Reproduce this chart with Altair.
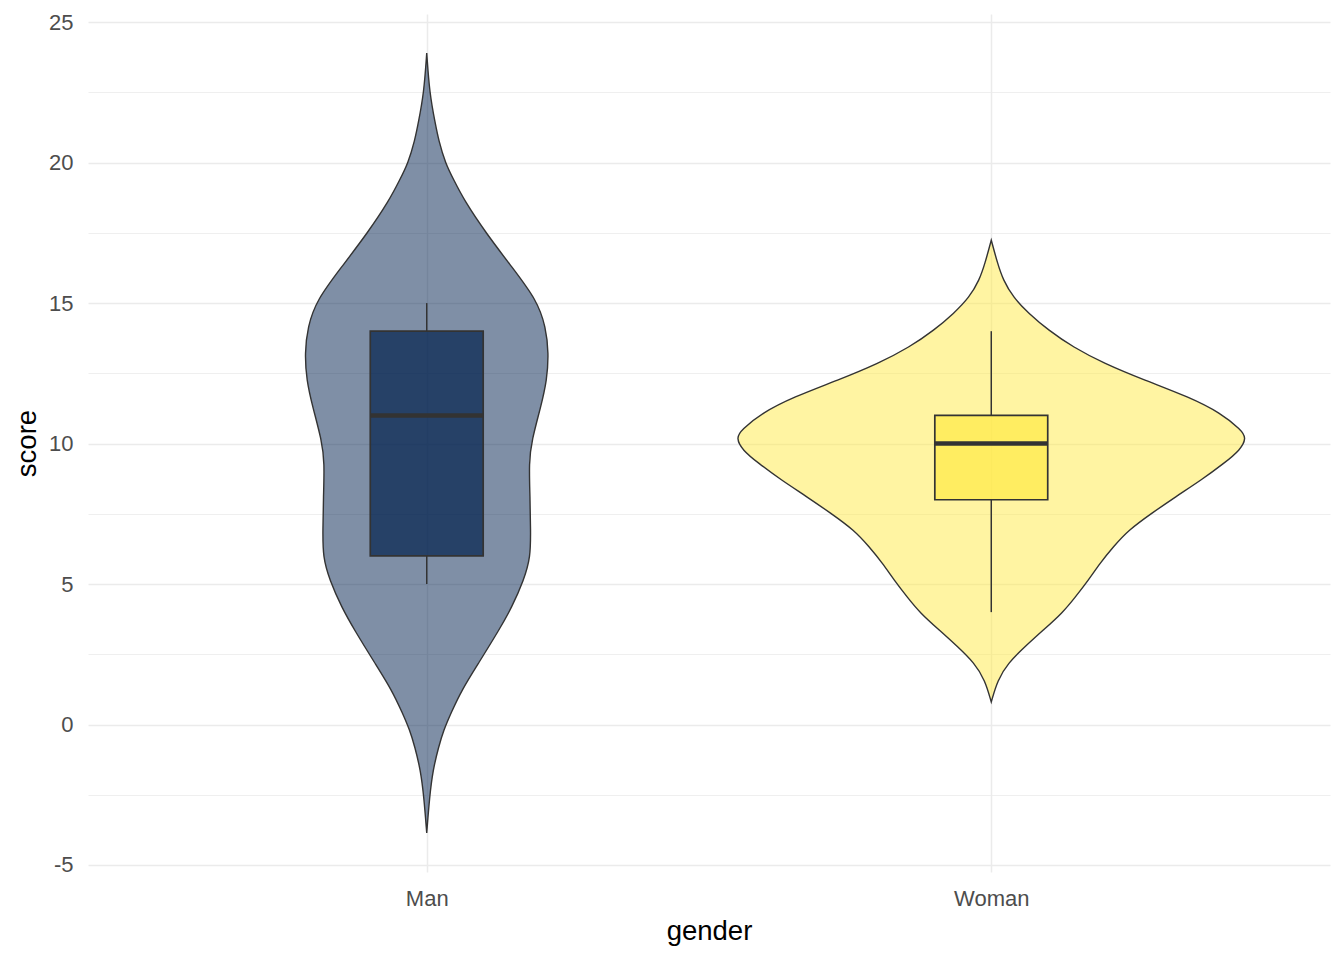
import altair as alt
import pandas as pd

# categories and colours
genders = ["Man", "Woman"]
gender_pos = [1, 2]
fill_colors = ["#00204D", "#FFEA46"]

# violin outlines: score and half-width (x units)
man_score = [23.90, 22.47, 21.41, 20.80, 19.98, 19.38, 18.67, 17.49, 16.28, 15.11,
             14.15, 13.22, 12.26, 11.30, 10.12, 9.31, 8.10, 6.92, 5.96, 5.14,
             4.18, 3.36, 2.19, 1.23, 0.41, -0.20, -0.80, -1.62, -2.58, -3.86]
man_half = [0.0, 0.005, 0.015, 0.021, 0.033, 0.048, 0.066, 0.105, 0.151, 0.195,
            0.211, 0.216, 0.213, 0.202, 0.186, 0.181, 0.183, 0.184, 0.184, 0.172,
            0.151, 0.128, 0.092, 0.062, 0.043, 0.030, 0.021, 0.011, 0.005, 0.0]

woman_score = [17.24, 16.42, 15.82, 15.20, 14.64, 14.04, 13.43, 12.86, 12.26, 11.65,
               11.09, 10.48, 10.20, 9.77, 9.31, 8.70, 8.10, 7.53, 6.92, 6.32,
               5.75, 5.14, 4.54, 3.97, 3.36, 2.76, 2.19, 1.58, 0.80]
woman_half = [0.0, 0.011, 0.021, 0.039, 0.066, 0.101, 0.145, 0.199, 0.271, 0.351,
              0.406, 0.443, 0.452, 0.441, 0.413, 0.372, 0.326, 0.285, 0.243, 0.216,
              0.193, 0.172, 0.149, 0.126, 0.092, 0.059, 0.030, 0.011, 0.0]

# boxplot statistics
box_q1 = [6, 8]
box_median = [11, 10]
box_q3 = [14, 11]
whisker_lo = [5, 4]
whisker_hi = [15, 14]
box_half = 0.1

y_ticks = [-5, -2.5, 0, 2.5, 5, 7.5, 10, 12.5, 15, 17.5, 20, 22.5, 25]

rows = []
for g, p, sc, hw in [("Man", 1, man_score, man_half), ("Woman", 2, woman_score, woman_half)]:
    for s, h in zip(sc, hw):
        rows.append({"gender": g, "score": s, "left": p - h, "right": p + h})
violin_df = pd.DataFrame(rows).sort_values(["gender", "score"]).reset_index(drop=True)

box_df = pd.DataFrame({
    "gender": genders, "pos": gender_pos,
    "bl": [p - box_half for p in gender_pos], "br": [p + box_half for p in gender_pos],
    "q1": box_q1, "median": box_median, "q3": box_q3,
    "lo": whisker_lo, "hi": whisker_hi,
})

FONT = "Liberation Sans"
xscale = alt.Scale(domain=[0.4, 2.6], nice=False, zero=False)
yscale = alt.Scale(domain=[-5.25, 25.29], nice=False, zero=False)
color = alt.Color("gender:N", scale=alt.Scale(domain=genders, range=fill_colors), legend=None)

xaxis = alt.Axis(values=gender_pos, labelExpr="datum.value == 1 ? 'Man' : 'Woman'",
                 grid=True, gridColor="#ebebeb", gridWidth=1.5, ticks=False, domain=False,
                 labelFontSize=22, labelColor="#4d4d4d", labelFont=FONT, labelPadding=16,
                 title="gender", titleFontSize=27.5, titleFont=FONT, titleColor="#000000",
                 titleFontWeight="normal", titlePadding=8)
yaxis = alt.Axis(values=y_ticks, labelExpr="datum.value % 5 === 0 ? '' + datum.value : ''",
                 grid=True, gridColor="#ebebeb",
                 gridWidth={"condition": {"test": "datum.value % 5 === 0", "value": 1.5}, "value": 0.8},
                 ticks=False, domain=False,
                 labelFontSize=22, labelColor="#4d4d4d", labelFont=FONT, labelPadding=15,
                 title="score", titleFontSize=27.5, titleFont=FONT, titleColor="#000000",
                 titleFontWeight="normal", titlePadding=7)

violin = alt.Chart(violin_df).mark_area(
    orient="horizontal", interpolate="basis", fillOpacity=0.5,
    stroke="#333333", strokeWidth=1.4, strokeOpacity=1
).encode(
    y=alt.Y("score:Q", scale=yscale, axis=yaxis),
    x=alt.X("left:Q", scale=xscale, axis=xaxis, stack=None),
    x2="right:Q",
    color=color,
)

whisk_lo = alt.Chart(box_df).mark_rule(color="#333333", strokeWidth=1.5).encode(
    x=alt.X("pos:Q", scale=xscale, axis=xaxis), y=alt.Y("lo:Q", scale=yscale, axis=yaxis), y2="q1:Q")
whisk_hi = alt.Chart(box_df).mark_rule(color="#333333", strokeWidth=1.5).encode(
    x=alt.X("pos:Q", scale=xscale, axis=xaxis), y=alt.Y("q3:Q", scale=yscale, axis=yaxis), y2="hi:Q")

boxes = alt.Chart(box_df).mark_rect(fillOpacity=0.7, stroke="#333333", strokeWidth=1.7, strokeOpacity=1).encode(
    x=alt.X("bl:Q", scale=xscale, axis=xaxis), x2="br:Q",
    y=alt.Y("q1:Q", scale=yscale, axis=yaxis), y2="q3:Q",
    color=color,
)

medians = alt.Chart(box_df).mark_rule(color="#333333", strokeWidth=4.5).encode(
    x=alt.X("bl:Q", scale=xscale, axis=xaxis), x2="br:Q",
    y=alt.Y("median:Q", scale=yscale, axis=yaxis),
)

chart = alt.layer(violin, whisk_lo, whisk_hi, boxes, medians).properties(
    width=1242, height=858,
    autosize=alt.AutoSizeParams(type="none"),
    padding={"left": 80, "top": 6, "right": 6, "bottom": 80},
    background="white",
).configure_view(stroke=None)

chart.save("out.html", embed_options={"renderer": "svg", "actions": False})
